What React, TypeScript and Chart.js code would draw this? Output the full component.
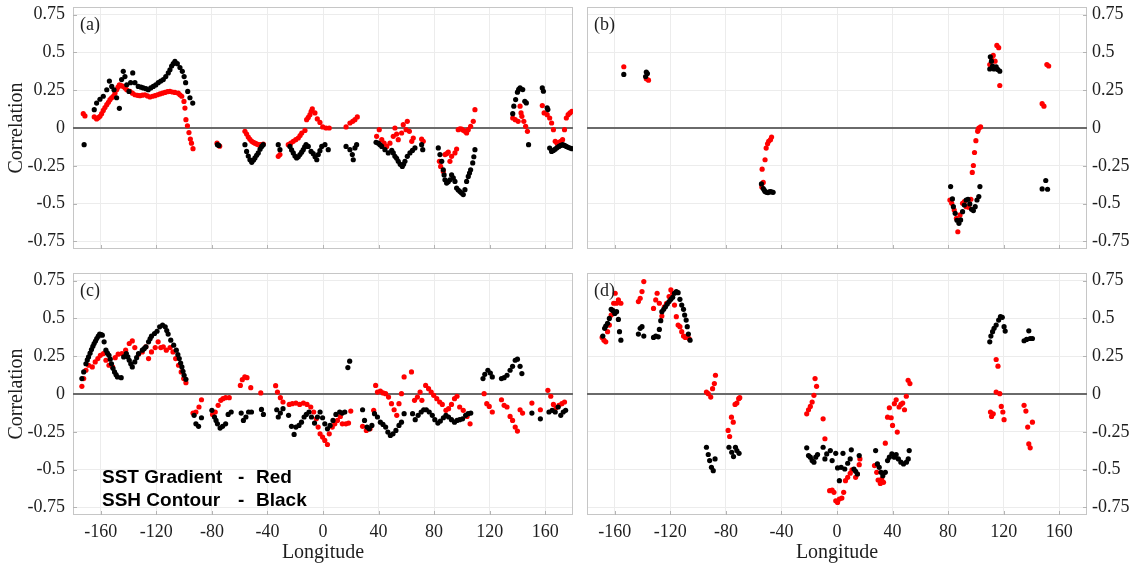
import React, { useEffect, useRef } from "react";
import { Chart, registerables } from "chart.js";

Chart.register(...registerables);

// ---------- tick values / labels ----------
const xTickValues = [-160, -120, -80, -40, 0, 40, 80, 120, 160];
const xTickLabels = ["-160", "-120", "-80", "-40", "0", "40", "80", "120", "160"];
const yTickValues = [-0.75, -0.5, -0.25, 0, 0.25, 0.5, 0.75];
const yTickLabels = ["-0.75", "-0.5", "-0.25", "0", "0.25", "0.5", "0.75"];
const panelLabels = ["(a)", "(b)", "(c)", "(d)"];
const legendNames = ["SST Gradient", "SSH Contour"];
const legendColours = ["Red", "Black"];

// ---------- data: [longitude, correlation] ----------
const aBlack: [number, number][] = [
  [-172, -0.11],
  [-164.7, 0.121], [-163, 0.165], [-160.6, 0.19], [-158.2, 0.21], [-155.7, 0.253], [-153.8, 0.31], [-152.1, 0.275],
  [-150.5, 0.253], [-148.6, 0.2], [-146.6, 0.13], [-145, 0.32], [-143.8, 0.375], [-142.6, 0.34], [-141.3, 0.286],
  [-139.7, 0.242], [-138.5, 0.3], [-137, 0.364], [-135.4, 0.3], [-133, 0.275], [-131, 0.27], [-129.4, 0.265],
  [-127.5, 0.26], [-125.8, 0.253], [-124, 0.265], [-122.2, 0.275], [-120.4, 0.285], [-118.6, 0.3], [-116.8, 0.31],
  [-115, 0.32], [-113.2, 0.34], [-111.4, 0.364], [-110.2, 0.385], [-109, 0.41], [-107.8, 0.425], [-106.6, 0.44],
  [-104.9, 0.425], [-103, 0.4], [-101.3, 0.375], [-100, 0.34], [-98.9, 0.3], [-97.4, 0.242], [-95.8, 0.2], [-93.8, 0.165],
  [-76, -0.11], [-75, -0.115],
  [-56.2, -0.11], [-55, -0.155], [-53.8, -0.185], [-52.6, -0.21], [-51.3, -0.227], [-50, -0.212], [-49, -0.198],
  [-47.8, -0.18], [-46.6, -0.165], [-45.3, -0.14], [-44.1, -0.122], [-43, -0.11],
  [-32.2, -0.11], [-31, -0.143], [-23.8, -0.122], [-22.6, -0.145], [-21.4, -0.165], [-20.2, -0.185], [-19, -0.198],
  [-17.8, -0.19], [-16.6, -0.176], [-15.4, -0.16], [-14.2, -0.143], [-13.2, -0.125], [-12.2, -0.11], [-10.6, -0.122],
  [-8.6, -0.155], [-7, -0.17], [-5.7, -0.19], [-4.5, -0.21], [-3.4, -0.176], [-2.2, -0.15], [-0.9, -0.122], [1.4, -0.11],
  [3.8, -0.143],
  [16.6, -0.122], [19.4, -0.143], [21.1, -0.176], [21.8, -0.21], [23, -0.132], [24.2, -0.11],
  [38.2, -0.095], [39.8, -0.1], [41, -0.11], [42.3, -0.122], [44.6, -0.143], [47, -0.165], [49.5, -0.148], [50.6, -0.165],
  [51.8, -0.187], [53, -0.2], [54.2, -0.22], [55.6, -0.24], [57.1, -0.254], [58, -0.24], [59, -0.22], [60.7, -0.187],
  [62.6, -0.165], [64.4, -0.148], [66.2, -0.132], [71, -0.11], [71.8, -0.143],
  [83, -0.132], [84.2, -0.176], [85.5, -0.22], [86.6, -0.276], [87.2, -0.31], [87.8, -0.342], [89, -0.364], [90.2, -0.355],
  [91.4, -0.342], [92.6, -0.31], [93.8, -0.33], [95, -0.353], [96.2, -0.397], [97.4, -0.41], [98.6, -0.42], [99.8, -0.43],
  [101, -0.44], [102.2, -0.408], [103.4, -0.353], [104.6, -0.32], [105.5, -0.298], [106.3, -0.276], [107.8, -0.231],
  [108.6, -0.19], [109.4, -0.143],
  [136.6, 0.095], [137.4, 0.144], [138.7, 0.188], [140, 0.237], [140.9, 0.255], [141.9, 0.265], [143.8, 0.254],
  [145.3, 0.177], [146.4, 0.166], [148, -0.11],
  [157.9, 0.265], [158.7, 0.243], [161.4, 0.133], [161.9, 0.122], [163.2, -0.133], [164.6, -0.155], [165.9, -0.148],
  [167.2, -0.14], [168.5, -0.13], [169.9, -0.122], [171.2, -0.115], [172.6, -0.11], [173.9, -0.115], [175.2, -0.122],
  [176.5, -0.128], [177.9, -0.133], [179.3, -0.137],
];

const aRed: [number, number][] = [
  [-172.6, 0.095], [-171.4, 0.08],
  [-164.7, 0.073], [-163, 0.06], [-161.8, 0.068], [-160.6, 0.077], [-159.4, 0.095], [-158.2, 0.116], [-157, 0.135],
  [-155.7, 0.154], [-154.5, 0.17], [-153.4, 0.187], [-152.2, 0.2], [-151, 0.21], [-149.8, 0.23], [-148.6, 0.253],
  [-147.6, 0.27], [-146.6, 0.286], [-145.2, 0.28], [-143.8, 0.275], [-142.5, 0.265], [-141.3, 0.253], [-139, 0.242],
  [-137.2, 0.23], [-135.4, 0.22], [-133.6, 0.216], [-131.8, 0.214], [-130, 0.217], [-128.2, 0.22], [-126.4, 0.212],
  [-124.6, 0.205], [-122.8, 0.21], [-121, 0.214], [-119.2, 0.22], [-117.4, 0.225], [-115.6, 0.23], [-113.8, 0.235],
  [-112, 0.24], [-110.2, 0.242], [-108.4, 0.238], [-106.6, 0.235], [-104.2, 0.23], [-103, 0.22], [-101.7, 0.21],
  [-100.1, 0.176], [-99.4, 0.132], [-98.7, 0.055], [-97.6, 0.015], [-96.5, -0.03], [-95.5, -0.073], [-94.7, -0.1],
  [-93.6, -0.137],
  [-76.3, -0.1], [-74.4, -0.12],
  [-56.2, -0.022], [-55, -0.04], [-53.8, -0.06], [-52.6, -0.075], [-51.3, -0.088], [-50.2, -0.095], [-49, -0.1],
  [-47.8, -0.105], [-46.6, -0.11], [-45, -0.11], [-43, -0.106],
  [-32.2, -0.187], [-31, -0.176], [-25, -0.11], [-23.2, -0.1], [-21.4, -0.088], [-19.6, -0.077], [-17.8, -0.066],
  [-16.5, -0.05], [-15.3, -0.033], [-13, -0.016], [-11.8, 0.055], [-10.6, 0.07], [-9.4, 0.088], [-8.5, 0.11],
  [-7.7, 0.126], [-5.8, 0.1], [-4.1, 0.06], [-2.2, 0.037], [-0.2, 0.007], [2.2, 0.0], [4.5, 0.0],
  [16.6, 0.007], [19.4, 0.033], [21.4, 0.044], [23, 0.055], [24.7, 0.073],
  [38.6, -0.055], [40.5, -0.011], [42.3, -0.077], [44, -0.1], [45.9, -0.122], [48.2, -0.1], [50.6, -0.055], [51.8, 0.0],
  [53, -0.04], [54.2, -0.077], [56.6, -0.033], [57.8, 0.022], [59.8, -0.011], [60.7, 0.044], [62.2, -0.022],
  [63.9, -0.088], [65, -0.066], [71, -0.073], [72.2, -0.088],
  [83.8, -0.22], [84.7, -0.254], [86.6, -0.287], [87.8, -0.176], [89, -0.17], [90.2, -0.16], [91.4, -0.22],
  [92.6, -0.187], [95, -0.165], [96.2, -0.139], [97.4, -0.011], [98.6, -0.005], [99.8, -0.007], [101, -0.015],
  [102.2, -0.022], [103.4, -0.033], [104.6, -0.011], [106.3, 0.011], [108.2, 0.044], [109.4, 0.121],
  [136.6, 0.066], [138.4, 0.055], [140.5, 0.044], [141.9, 0.144], [142.6, 0.1], [143.2, 0.077], [144.6, 0.044],
  [145.9, 0.011], [147.2, -0.022],
  [157.9, 0.148], [159.2, 0.1], [161.4, 0.088], [163.2, 0.066], [164.6, 0.033], [165.9, -0.011], [167.2, -0.088],
  [168.5, -0.1], [170, -0.095], [171.2, -0.088], [172.5, -0.077], [173.9, -0.011], [175.2, 0.066], [176.5, 0.088],
  [177.8, 0.1], [179.2, 0.11],
];

const bBlack: [number, number][] = [
  [-153.5, 0.354], [-137.8, 0.34], [-137.3, 0.37], [-136.5, 0.36],
  [-54.4, -0.37], [-53.1, -0.4], [-52.4, -0.41], [-51.8, -0.42], [-50.7, -0.425], [-49.7, -0.427], [-48.8, -0.422],
  [-47.9, -0.42], [-46.9, -0.423], [-46, -0.425],
  [81.8, -0.387], [83.1, -0.469], [83.8, -0.52], [85.1, -0.564], [86.4, -0.61], [87.8, -0.63], [89, -0.608],
  [90.4, -0.553], [91.7, -0.509], [93, -0.476], [94.3, -0.471], [95.6, -0.502], [96.9, -0.538], [98.2, -0.546],
  [99.5, -0.52], [100.8, -0.476], [102.1, -0.453], [102.9, -0.387],
  [110, 0.39], [110.4, 0.471], [111.2, 0.442], [112, 0.41], [113, 0.39], [114.6, 0.405], [115.7, 0.387], [117.2, 0.376],
  [147.7, -0.403], [150.3, -0.347], [151.6, -0.405],
];

const bRed: [number, number][] = [
  [-153.5, 0.405], [-137.3, 0.325], [-135.7, 0.316],
  [-54.1, -0.39], [-53.1, -0.36], [-53.9, -0.272], [-51.8, -0.21], [-51, -0.133], [-50, -0.104], [-49.2, -0.088],
  [-47.9, -0.077], [-47.1, -0.06],
  [81.3, -0.476], [82.6, -0.498], [84.4, -0.542], [86, -0.597], [87, -0.686], [88.6, -0.575], [90.4, -0.498],
  [91.7, -0.487], [93, -0.52], [94.8, -0.524], [96.4, -0.471], [97.4, -0.294], [98.2, -0.248], [99, -0.162],
  [100, -0.084], [101.3, -0.022], [101.6, -0.011], [102.1, 0.0], [103.4, 0.007],
  [110, 0.42], [111.2, 0.465], [112.5, 0.48], [113.8, 0.442], [115.1, 0.546], [116.4, 0.531], [117.2, 0.281],
  [147.7, 0.161], [149, 0.144], [151.1, 0.42], [152.4, 0.41],
];

const cBlack: [number, number][] = [
  [-173.6, 0.102], [-172.3, 0.146], [-170.7, 0.2], [-169.7, 0.225], [-168.8, 0.245], [-167.7, 0.27], [-166.7, 0.294],
  [-165.7, 0.315], [-164.8, 0.334], [-163.8, 0.35], [-162.9, 0.367], [-161.8, 0.382], [-160.8, 0.396], [-159.8, 0.393],
  [-158.9, 0.389], [-157.6, 0.345], [-156.3, 0.29], [-155.2, 0.27], [-154.1, 0.256], [-153.2, 0.23], [-152.3, 0.2],
  [-151.2, 0.17], [-150.1, 0.146], [-149, 0.128], [-148, 0.113], [-145.3, 0.108],
  [-143.5, 0.245], [-141.6, 0.267], [-140.5, 0.245], [-139.5, 0.223], [-138.4, 0.2], [-137.3, 0.179], [-135.5, 0.212],
  [-134.2, 0.24], [-132.8, 0.267], [-130.1, 0.29], [-128.8, 0.3], [-127.5, 0.312], [-125.6, 0.345], [-124.5, 0.365],
  [-123.5, 0.382], [-121.3, 0.4], [-119.5, 0.415], [-117.6, 0.444], [-115.5, 0.455], [-113.6, 0.444], [-112.5, 0.42],
  [-111.5, 0.396], [-109.6, 0.356], [-107.5, 0.323], [-105.6, 0.29], [-104.5, 0.26], [-103.5, 0.234], [-102.5, 0.205],
  [-101.6, 0.179], [-100.8, 0.15], [-100, 0.124], [-98.7, 0.097],
  [-92.8, -0.141], [-91.5, -0.197], [-89.6, -0.214], [-87.5, -0.157], [-80, -0.108], [-78.1, -0.152], [-77, -0.175],
  [-76, -0.197], [-74.1, -0.225], [-72.3, -0.214], [-70.1, -0.197], [-68.3, -0.135], [-66.1, -0.119], [-58.9, -0.126],
  [-57.3, -0.175], [-55.5, -0.152], [-53.6, -0.119], [-51.5, -0.119], [-44.3, -0.102], [-42.9, -0.135], [-33.3, -0.104],
  [-32.2, -0.152], [-30.7, -0.126], [-28.8, -0.097], [-24.8, -0.141], [-22.7, -0.214], [-20.8, -0.267], [-19.5, -0.219],
  [-17.3, -0.208], [-15.5, -0.186], [-13.6, -0.152], [-12, -0.135], [-10.1, -0.119], [-8.3, -0.152], [-6.1, -0.192],
  [-4, -0.152], [-2.1, -0.119], [-0.3, -0.157], [1.3, -0.197], [3.2, -0.23], [5.1, -0.208], [7.2, -0.175], [9.3, -0.135],
  [12, -0.119], [13.9, -0.126], [15.7, -0.119],
  [17.9, 0.175], [19.2, 0.217],
  [28.5, -0.104], [29.9, -0.175], [31.7, -0.219], [33.3, -0.23], [35.2, -0.208], [37.1, -0.13], [39.2, -0.152],
  [41.3, -0.186], [43.2, -0.201], [45.1, -0.219], [46.7, -0.252], [48.5, -0.274], [50.4, -0.263], [52.5, -0.241],
  [54.7, -0.208], [56.5, -0.186], [58.4, -0.13], [64.5, -0.13], [66.4, -0.17], [68.5, -0.141], [70.7, -0.119],
  [72.5, -0.104], [74.4, -0.104], [76.5, -0.119], [78.7, -0.141], [80.5, -0.17], [82.7, -0.192], [84.5, -0.179],
  [86.7, -0.157], [88.5, -0.141], [90.4, -0.152], [92.5, -0.17], [94.7, -0.186], [96.5, -0.175], [98.4, -0.17],
  [100.5, -0.164], [102.7, -0.141], [104.5, -0.13], [106.4, -0.126],
  [115.2, 0.102], [116.5, 0.13], [118.7, 0.157], [120.5, 0.139], [121.9, 0.113], [128.5, 0.102], [130.4, 0.108],
  [132.5, 0.124], [134.7, 0.157], [136.5, 0.183], [138.4, 0.223], [140, 0.23], [141.9, 0.183], [143.2, 0.135],
  [150.4, -0.126], [156.5, -0.164], [162.7, -0.119], [165, -0.108], [167.2, -0.119], [169.3, -0.086], [171.2, -0.141],
  [173, -0.119], [174.7, -0.108],
];

const cRed: [number, number][] = [
  [-173.6, 0.051], [-172.3, 0.102], [-170.7, 0.157], [-168.8, 0.19], [-166.1, 0.179], [-164, 0.212], [-162.1, 0.234],
  [-160.3, 0.256], [-158.1, 0.267], [-156.3, 0.223], [-154.1, 0.19], [-151.5, 0.179], [-149.6, 0.24], [-147.5, 0.263],
  [-144.8, 0.267], [-142.1, 0.29], [-139.5, 0.334], [-137.3, 0.351], [-135.5, 0.307], [-132.8, 0.263], [-130.1, 0.278],
  [-127.5, 0.312], [-125.6, 0.234], [-123.5, 0.278], [-120.8, 0.307], [-118.7, 0.345], [-116.8, 0.307], [-115, 0.312],
  [-112.8, 0.29], [-110.1, 0.307], [-108, 0.278], [-106.1, 0.234], [-104, 0.19], [-102.1, 0.146], [-100.3, 0.102],
  [-98.7, 0.075],
  [-93.6, -0.126], [-91.5, -0.119], [-89.3, -0.086], [-87.5, -0.038], [-79.5, -0.135], [-77.6, -0.119], [-75.5, -0.075],
  [-73.6, -0.042], [-72, -0.031], [-70.1, -0.024], [-67.5, -0.024], [-59.5, 0.057], [-58.1, 0.095], [-56.3, 0.113],
  [-54.7, 0.108], [-52, 0.042], [-44.8, 0.007], [-34.1, 0.055], [-32.8, 0.013], [-30.7, -0.024], [-28.8, -0.053],
  [-24.3, -0.069], [-22.1, -0.064], [-19.5, -0.06], [-16.8, -0.069], [-14.1, -0.06], [-11.5, -0.069], [-8.8, -0.086],
  [-6.7, -0.119], [-4.8, -0.164], [-3.5, -0.219], [-2.1, -0.263], [-0.3, -0.285], [1.3, -0.307], [3.2, -0.334],
  [4.5, -0.263], [6.7, -0.219], [8.5, -0.197], [10.4, -0.175], [12.5, -0.148], [13.9, -0.197], [16.5, -0.197],
  [18.4, -0.192], [20, -0.113],
  [28.5, -0.214], [31.2, -0.241], [33.9, -0.23], [36.5, -0.108], [37.9, 0.057], [39.2, 0.013], [41.3, 0.02], [43.2, 0.007],
  [45.1, 0.002], [47.2, -0.02], [49.3, -0.064], [51.2, -0.104], [53.1, -0.141], [54.7, -0.064], [56.5, 0.002],
  [58.4, 0.113], [63.7, 0.146], [65.9, -0.042], [68, -0.02], [69.9, 0.013], [71.2, -0.042], [73.9, 0.057], [76, 0.035],
  [77.9, 0.013], [79.7, -0.009], [81.9, -0.031], [84, -0.053], [85.9, -0.069], [88.5, -0.108], [90.4, -0.097],
  [92.5, -0.069], [94.7, -0.031], [96.5, -0.015], [98.4, -0.086], [101, -0.108], [103.7, -0.148], [105.9, -0.197],
  [116, 0.002], [117.9, -0.064], [119.7, -0.082], [121.9, -0.119], [128.5, -0.038], [130.4, -0.075], [132.5, -0.086],
  [134.7, -0.148], [136.5, -0.175], [138.4, -0.219], [140, -0.245], [141.9, -0.104], [143.7, -0.126],
  [150.4, -0.06], [156.5, -0.104], [161.9, 0.024], [164, -0.015], [165.9, -0.069], [167.8, -0.091], [169.9, -0.075],
  [172, -0.064], [173.9, -0.053],
];

const dBlack: [number, number][] = [
  [-168.6, 0.383], [-167.3, 0.434], [-166.5, 0.449], [-165.2, 0.467], [-163.9, 0.5], [-162.6, 0.56], [-161.3, 0.551],
  [-160, 0.533], [-158.7, 0.544], [-157.4, 0.493], [-156.6, 0.412], [-155.6, 0.356],
  [-143, 0.396], [-141.7, 0.434], [-140.4, 0.445], [-139.1, 0.383],
  [-132.1, 0.374], [-130.5, 0.383], [-128.7, 0.378], [-127.9, 0.427], [-126.9, 0.485], [-126.1, 0.544], [-124.8, 0.56],
  [-123.5, 0.577], [-122.2, 0.595], [-120.9, 0.611], [-119.6, 0.626], [-118.3, 0.639], [-117, 0.666], [-115.7, 0.677],
  [-114.4, 0.67], [-113.1, 0.626], [-111.8, 0.588], [-110.5, 0.56], [-109.7, 0.522], [-108.6, 0.489], [-107.8, 0.445],
  [-107, 0.396], [-105.8, 0.356],
  [-94, -0.352], [-92.7, -0.4], [-91.7, -0.44], [-90.4, -0.485], [-89.1, -0.507], [-87.8, -0.429],
  [-77.8, -0.352], [-75.8, -0.385], [-74.5, -0.414], [-73.1, -0.352], [-72.1, -0.374], [-70.5, -0.392],
  [-21.8, -0.356], [-20.5, -0.407], [-19.2, -0.418], [-17.9, -0.44], [-16.6, -0.451], [-15.3, -0.418], [-14, -0.4],
  [-10, -0.352], [-8.7, -0.429], [-7.4, -0.396], [-4.8, -0.374], [-3.5, -0.44], [-0.9, -0.392], [0.4, -0.489],
  [1.7, -0.573], [3, -0.485], [4.3, -0.392], [5.6, -0.496], [7.7, -0.458], [9.5, -0.429], [10.3, -0.369], [12.2, -0.496],
  [13.4, -0.511], [14.7, -0.529], [16, -0.407],
  [27.8, -0.374], [29.1, -0.462], [30.4, -0.485], [31.7, -0.518], [33, -0.54], [34.8, -0.518], [36.4, -0.44],
  [37.7, -0.418], [39.5, -0.396], [41.3, -0.418], [42.6, -0.4], [44.2, -0.429], [46, -0.451], [47.9, -0.462], [50, -0.451],
  [51.3, -0.429], [52, -0.374],
  [110, 0.345], [110.8, 0.383], [112, 0.412], [113.1, 0.434], [114.6, 0.456], [116.4, 0.489], [117.7, 0.511],
  [119, 0.507], [120.3, 0.445], [121.1, 0.416],
  [134.7, 0.352], [136.5, 0.361], [138.1, 0.418], [139.1, 0.367], [140.7, 0.367],
];

const dRed: [number, number][] = [
  [-169.1, 0.374], [-167.8, 0.356], [-166.5, 0.345], [-165.2, 0.412], [-163.9, 0.456], [-162.6, 0.522], [-161.8, 0.555],
  [-160.8, 0.6], [-159.7, 0.666], [-158.7, 0.6], [-157.4, 0.622], [-155.6, 0.6],
  [-143, 0.611], [-141.7, 0.633], [-140.4, 0.677], [-139.1, 0.743],
  [-132.1, 0.566], [-130.5, 0.622], [-129.5, 0.666], [-127.9, 0.6], [-126.1, 0.515], [-124.3, 0.577], [-122.7, 0.6],
  [-120.9, 0.644], [-119.6, 0.688], [-118.3, 0.666], [-117, 0.588], [-115.7, 0.511], [-114.4, 0.456], [-113.1, 0.445],
  [-111.8, 0.412], [-110.5, 0.383], [-109.2, 0.374], [-107.8, 0.383], [-106.5, 0.367],
  [-94, 0.013], [-92.7, 0.002], [-90.9, -0.02], [-89.6, 0.035], [-88.3, 0.069], [-87.5, 0.124],
  [-78.4, -0.241], [-77.3, -0.281], [-76, -0.153], [-74.7, -0.186], [-73.4, -0.069], [-72.1, -0.06], [-70.8, -0.031],
  [-70, -0.024],
  [-21.8, -0.131], [-20.5, -0.104], [-19.2, -0.082], [-17.9, -0.053], [-16.6, -0.009], [-15.8, 0.102], [-14.7, 0.051],
  [-10, -0.164], [-8.7, -0.296], [-5.3, -0.639], [-3.5, -0.635], [-2.2, -0.65], [-0.9, -0.706], [0.4, -0.717],
  [1.7, -0.695], [3.5, -0.688], [4.8, -0.65], [6.1, -0.573], [7.7, -0.551], [9.5, -0.524], [10.8, -0.502], [13.4, -0.551],
  [14.7, -0.529], [16, -0.467], [16.5, -0.429],
  [27, -0.473], [28.6, -0.518], [29.6, -0.569], [31.2, -0.591], [32.2, -0.562], [33.5, -0.584], [34.8, -0.325],
  [36.4, -0.153], [37.7, -0.091], [39, -0.157], [40, -0.208], [41.3, -0.064], [42.6, -0.038], [43.4, -0.252],
  [44.7, -0.086], [46, -0.069], [47.3, -0.06], [48.6, -0.104], [49.9, -0.015], [51.2, 0.091], [52.5, 0.069],
  [110.5, -0.119], [111.3, -0.148], [112.5, -0.131], [114.6, 0.228], [115.9, 0.184], [114.6, 0.013], [117.2, 0.002],
  [118.3, -0.082], [119.4, -0.119], [120.3, -0.17],
  [134.7, -0.075], [136, -0.113], [137.3, -0.219], [138.1, -0.33], [139.1, -0.356], [140.7, -0.186],
];

// ---------- styling ----------
const SERIF = "'Liberation Serif', 'Times New Roman', Times, serif";
const SANS = "'Liberation Sans', Arial, Helvetica, sans-serif";
const TEXT = "#1e1e1e";
const GRID = "#ececec";
const FRAME = "#c6c6c6";

const framePlugin = {
  id: "frame",
  beforeDatasetsDraw(chart: any) {
    const { ctx, chartArea: a, scales } = chart;
    ctx.save();
    // frame
    ctx.strokeStyle = FRAME;
    ctx.lineWidth = 1;
    ctx.strokeRect(a.left + 0.5, a.top + 0.5, a.right - a.left - 1, a.bottom - a.top - 1);
    // inward tick marks
    ctx.strokeStyle = "#b4b4b4";
    ctx.beginPath();
    for (const v of xTickValues) {
      const px = Math.round(scales.x.getPixelForValue(v)) + 0.5;
      ctx.moveTo(px, a.bottom);
      ctx.lineTo(px, a.bottom - 4);
    }
    const yPos = scales.y.position;
    for (const v of yTickValues) {
      const py = Math.round(scales.y.getPixelForValue(v)) + 0.5;
      if (yPos === "left") {
        ctx.moveTo(a.left, py);
        ctx.lineTo(a.left + 4, py);
      } else {
        ctx.moveTo(a.right, py);
        ctx.lineTo(a.right - 4, py);
      }
    }
    ctx.stroke();
    // zero line
    const y0 = scales.y.getPixelForValue(0);
    ctx.strokeStyle = "#6a6a6a";
    ctx.lineWidth = 2;
    ctx.beginPath();
    ctx.moveTo(a.left, y0);
    ctx.lineTo(a.right, y0);
    ctx.stroke();
    ctx.restore();
  },
  afterDraw(chart: any, _args: any, opts: any) {
    const { ctx, chartArea: a } = chart;
    ctx.save();
    ctx.fillStyle = TEXT;
    ctx.textBaseline = "middle";
    ctx.textAlign = "left";
    ctx.font = `18px ${SERIF}`;
    ctx.fillText(opts.label, a.left + 7, a.top + 18);
    if (opts.legend) {
      ctx.fillStyle = "#000";
      ctx.font = `bold 19px ${SANS}`;
      legendNames.forEach((name, i) => {
        const y = a.bottom - 37 + i * 22.7;
        ctx.fillText(name, a.left + 29, y);
        ctx.fillText("-", a.left + 165, y);
        ctx.fillText(legendColours[i], a.left + 183, y);
      });
    }
    ctx.restore();
  },
};

type PanelOpts = { label: string; right: boolean; bottom: boolean; legend: boolean };

function makeConfig(black: [number, number][], red: [number, number][], p: PanelOpts): any {
  return {
    type: "scatter",
    data: {
      datasets: [
        {
          label: "SSH Contour",
          data: black.map(([x, y]) => ({ x, y })),
          backgroundColor: "#000000",
          borderWidth: 0,
          pointRadius: 2.6,
        },
        {
          label: "SST Gradient",
          data: red.map(([x, y]) => ({ x, y })),
          backgroundColor: "#ff0000",
          borderWidth: 0,
          pointRadius: 2.6,
        },
      ],
    },
    options: {
      animation: false,
      responsive: false,
      devicePixelRatio: 1,
      events: [],
      layout: {
        padding: { left: p.right ? 7 : 0, right: p.right ? 0 : 7, top: p.bottom ? 13 : 7, bottom: 0 },
      },
      plugins: {
        legend: { display: false },
        tooltip: { enabled: false },
        frame: { label: p.label, legend: p.legend },
      },
      scales: {
        x: {
          type: "linear",
          min: -180,
          max: 180,
          afterBuildTicks: (s: any) => {
            s.ticks = xTickValues.map((v) => ({ value: v }));
          },
          afterFit: (s: any) => {
            s.height = p.bottom ? 54 : 11;
            s.paddingLeft = 0;
            s.paddingRight = 0;
            s.paddingTop = 0;
            s.paddingBottom = 0;
          },
          grid: { color: GRID, drawTicks: false, lineWidth: 1 },
          border: { display: false },
          ticks: {
            display: p.bottom,
            padding: 6,
            maxRotation: 0,
            autoSkip: false,
            color: TEXT,
            font: { family: SERIF, size: 18 },
            callback: (v: number) => xTickLabels[xTickValues.indexOf(v)] ?? "",
          },
          title: {
            display: p.bottom,
            text: "Longitude",
            color: TEXT,
            font: { family: SERIF, size: 20 },
            padding: { top: 0, bottom: 4 },
          },
        },
        y: {
          type: "linear",
          position: p.right ? "right" : "left",
          min: -0.8,
          max: 0.8,
          afterBuildTicks: (s: any) => {
            s.ticks = yTickValues.map((v) => ({ value: v }));
          },
          afterFit: (s: any) => {
            s.width = p.right ? 51 : 73;
            s.paddingLeft = 0;
            s.paddingRight = 0;
            s.paddingTop = 0;
            s.paddingBottom = 0;
          },
          grid: { color: GRID, drawTicks: false, lineWidth: 1 },
          border: { display: false },
          ticks: {
            padding: p.right ? 5 : 8,
            autoSkip: false,
            color: TEXT,
            font: { family: SERIF, size: 18 },
            callback: (v: number) => yTickLabels[yTickValues.indexOf(v)] ?? "",
          },
          title: {
            display: !p.right,
            text: "Correlation",
            color: TEXT,
            font: { family: SERIF, size: 20 },
            padding: { top: 5, bottom: 0 },
          },
        },
      },
    },
    plugins: [framePlugin],
  };
}

function Panel(props: {
  black: [number, number][];
  red: [number, number][];
  opts: PanelOpts;
  left: number;
  top: number;
  width: number;
  height: number;
}) {
  const ref = useRef<HTMLCanvasElement>(null);
  useEffect(() => {
    const chart = new Chart(ref.current as HTMLCanvasElement, makeConfig(props.black, props.red, props.opts));
    return () => chart.destroy();
  }, []);
  return (
    <canvas
      ref={ref}
      width={props.width}
      height={props.height}
      style={{ position: "absolute", left: props.left, top: props.top, width: props.width, height: props.height }}
    />
  );
}

export default function App() {
  return (
    <div style={{ position: "absolute", left: 0, top: 0, width: 1138, height: 569, background: "#fff" }}>
      <Panel black={aBlack} red={aRed} opts={{ label: panelLabels[0], right: false, bottom: false, legend: false }}
        left={0} top={0} width={580} height={260} />
      <Panel black={bBlack} red={bRed} opts={{ label: panelLabels[1], right: true, bottom: false, legend: false }}
        left={580} top={0} width={558} height={260} />
      <Panel black={cBlack} red={cRed} opts={{ label: panelLabels[2], right: false, bottom: true, legend: true }}
        left={0} top={260} width={580} height={309} />
      <Panel black={dBlack} red={dRed} opts={{ label: panelLabels[3], right: true, bottom: true, legend: false }}
        left={580} top={260} width={558} height={309} />
    </div>
  );
}
